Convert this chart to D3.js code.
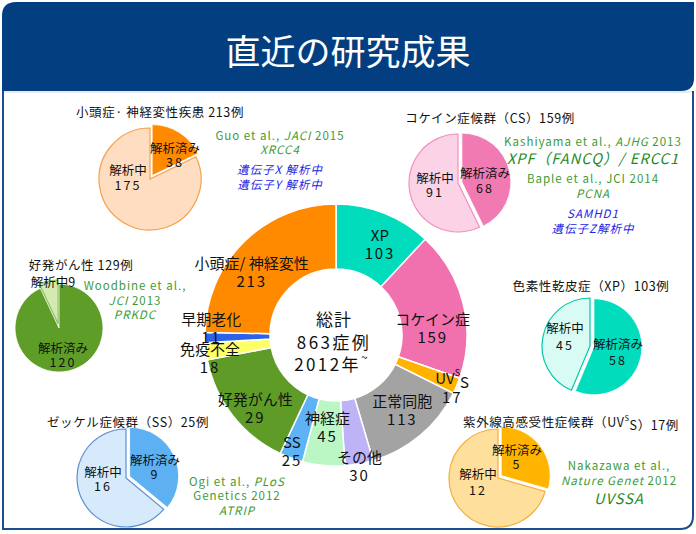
<!DOCTYPE html>
<html><head><meta charset="utf-8">
<script src="https://cdn.jsdelivr.net/npm/d3@7"></script>
<style>
body{margin:0;background:#fff}
svg{display:block}
text{font-family:"Noto Sans CJK JP","Noto Sans",sans-serif}
</style>
</head><body>
<svg id="c" width="696" height="534"></svg>
<script>
// ---------- data ----------
const chartTitle = "直近の研究成果";
const centerLines = ["総計", "863症例", "2012年"];
const donutCategories = ["XP", "コケイン症", "UVSS", "正常同胞", "その他", "神経症", "SS", "好発がん性", "免疫不全", "早期老化", "小頭症/ 神経変性"];
const donutValues = [103, 159, 17, 113, 30, 45, 25, 129, 18, 11, 213];
const donutValueLabels = ["103", "159", "17", "113", "30", "45", "25", "29", "18", "11", "213"];
const donutColors = ["#00DCBC", "#F071AE", "#FFB300", "#A3A3A3", "#BFB3F7", "#BAF7C4", "#5DB3F5", "#5F9C27", "#FFFF66", "#2C62E6", "#FF8A00"];

const pieTitles = ["小頭症· 神経変性疾患 213例", "コケイン症候群（CS）159例", "好発がん性 129例", "色素性乾皮症（XP）103例", "ゼッケル症候群（SS）25例", "紫外線高感受性症候群（UVSS）17例"];
const pieAnalyzed = [38, 68, 120, 58, 9, 5];
const pieInProgress = [175, 91, 9, 45, 16, 12];
const pieSliceNames = ["解析済み", "解析中"];
const pieDark = ["#FF8A00", "#F27AB3", "#5E9E28", "#00DCBC", "#5DB0F2", "#FFB400"];
const pieLight = ["#FFDDC0", "#FCD3E6", "#D3EAB0", "#D8FBF4", "#D7EAFB", "#FFDF9C"];
const pieEdge = ["#F5A050", "#F090C0", "#8DC060", "#00C8A8", "#5B8FD0", "#F0B040"];

// citation lines: segments [text, italic]
const citations = [
  [ {t:[["Guo et al., ",0],["JACI",1],[" 2015",0]], c:"g"}, {t:[["XRCC4",1]], c:"g"},
    {t:[["遺伝子X 解析中",1]], c:"b"}, {t:[["遺伝子Y 解析中",1]], c:"b"} ],
  [ {t:[["Kashiyama et al., ",0],["AJHG",1],[" 2013",0]], c:"g"}, {t:[["XPF（FANCQ）/ ERCC1",1]], c:"G"},
    {t:[["Baple et al., JCI 2014",0]], c:"g"}, {t:[["PCNA",1]], c:"g"},
    {t:[["SAMHD1",1]], c:"b"}, {t:[["遺伝子Z解析中",1]], c:"b"} ],
  [ {t:[["Woodbine et al.,",0]], c:"g"}, {t:[["JCI",1],[" 2013",0]], c:"g"}, {t:[["PRKDC",1]], c:"g"} ],
  [],
  [ {t:[["Ogi et al., ",0],["PLoS",1]], c:"g"}, {t:[["Genetics 2012",0]], c:"g"}, {t:[["ATRIP",1]], c:"g"} ],
  [ {t:[["Nakazawa et al.,",0]], c:"g"}, {t:[["Nature Genet",1],[" 2012",0]], c:"g"}, {t:[["UVSSA",1]], c:"G"} ]
];

// ---------- layout ----------
const L = {
  cx: 336, cy: 335, rIn: 66, rOut: 131,
  donutLabel: [ {r:102,da:4},{r:97,da:9},{r:127,da:1},{r:99,da:-2},{r:132,da:0},{r:91,da:0},
                {r:123,da:1},{r:108,da:-3.7},{r:128,da:-2.7},{r:125,da:5},{r:106,da:-8.3} ],
  // la/lp = position of first label line relative to pie centre; g = gap to second line
  pies: [
    {cx:150,cy:179,r:51,tx:160,ty:111, la:[25,-32], lp:[-22,-10], g:[14,15], explode:0, cit:{x:280,y:[135,148.5,169,184]}},
    {cx:458,cy:183,r:49,tx:490,ty:117, la:[27,-11], lp:[-23,-6], g:[15.5,14.5], explode:0, cit:{x:593,y:[140.5,157,177.5,193,213,227.5]}},
    {cx:59,cy:328,r:44,tx:81,ty:264, la:[4,19], lp:[-6,-47], g:[14.5,0], explode:1, cit:{x:135,y:[285,300,314]}},
    {cx:590,cy:346,r:48,tx:591,ty:285, la:[28,-3], lp:[-25,-19], g:[16.5,17], explode:0, cit:null},
    {cx:126,cy:478,r:49,tx:128,ty:421, la:[29,-19], lp:[-23,-7], g:[14.5,14.5], explode:0, cit:{x:237,y:[481,495,509.5]}},
    {cx:498,cy:478,r:49,tx:571,ty:421, la:[19,-29], lp:[-20,-5], g:[14.5,16.5], explode:0, cit:{x:619,y:[465,480,497]}}
  ]
};
const citColor = {g:"#3D9B35", G:"#238A23", b:"#2424E6"};

const svg = d3.select("#c");

// ---------- frame ----------
const navy = "#033F80";
svg.append("path")
  .attr("d", "M2,16 Q2,2 16,2 L694,2 L694,78 Q694,91 681,91 L2,91 Z")
  .attr("fill", navy);
svg.append("line").attr("x1",3).attr("x2",693).attr("y1",92).attr("y2",92).attr("stroke","#cfd6de").attr("stroke-width",1);
svg.append("path")
  .attr("d", "M3,91 L3,529 L680,529 Q693,529 693,516 L693,91")
  .attr("fill", "none").attr("stroke", "#1F4E8C").attr("stroke-width", 2);
svg.append("text").attr("x", 348).attr("y", 49).attr("text-anchor","middle").attr("dominant-baseline","central")
  .attr("fill","#fff").attr("font-size", 35).text(chartTitle);

// helper: write text with UVsS superscript
function addTxt(sel, str) {
  const parts = str.split("UVSS");
  parts.forEach((p, i) => {
    if (p) sel.append("tspan").text(p);
    if (i < parts.length - 1) {
      sel.append("tspan").text("UV");
      sel.append("tspan").attr("font-size","0.6em").attr("dy","-0.55em").text("S");
      sel.append("tspan").attr("dy","0.55em").text("S");
    }
  });
}

// ---------- main donut ----------
const donutData = donutCategories.map((c, i) => ({c, v: donutValues[i], lab: donutValueLabels[i], col: donutColors[i], i}));
const pie = d3.pie().sort(null).value(d => d.v);
const arcs = pie(donutData);
const arc = d3.arc().innerRadius(L.rIn).outerRadius(L.rOut);
const g = svg.append("g").attr("transform", `translate(${L.cx},${L.cy})`);
g.selectAll("path.s").data(arcs).join("path").attr("class","s")
  .attr("d", arc).attr("fill", d => d.data.col).attr("stroke","#fff").attr("stroke-width",1.5);

arcs.forEach((a, i) => {
  const lay = L.donutLabel[i];
  const ang = (a.startAngle + a.endAngle) / 2 + lay.da * Math.PI / 180;
  const x = lay.r * Math.sin(ang), y = -lay.r * Math.cos(ang);
  const t1 = g.append("text").attr("x", x).attr("y", y - 9).attr("text-anchor","middle")
    .attr("dominant-baseline","central").attr("font-size",15).attr("fill","#111");
  addTxt(t1, a.data.c);
  g.append("text").attr("x", x).attr("y", y + 10).attr("text-anchor","middle")
    .attr("dominant-baseline","central").attr("font-size",15).attr("letter-spacing",1.8).attr("fill","#111")
    .text(a.data.lab);
});

// centre text
const cyLines = [-17, 6, 28];
centerLines.forEach((s, i) => {
  const t = g.append("text").attr("x", i === 2 ? -4 : -2).attr("y", cyLines[i]).attr("text-anchor","middle")
    .attr("dominant-baseline","central").attr("font-size",17).attr("letter-spacing", i ? 2.4 : 1).attr("fill","#111");
  t.append("tspan").text(s);
  if (i === 2) t.append("tspan").attr("font-size","0.7em").attr("dy","-0.6em").text("~");
});

// ---------- small pies ----------
const smallPie = d3.pie().sort(null).value(d => d);
L.pies.forEach((p, k) => {
  const vals = [pieAnalyzed[k], pieInProgress[k]];
  const pa = smallPie(vals);
  const sarc = d3.arc().innerRadius(0).outerRadius(p.r);
  const pg = svg.append("g").attr("transform", `translate(${p.cx},${p.cy})`);
  pa.forEach((a, j) => {
    const mid = (a.startAngle + a.endAngle) / 2;
    const off = j === p.explode ? 4 : 0;
    pg.append("path").attr("d", sarc(a))
      .attr("transform", `translate(${off*Math.sin(mid)},${-off*Math.cos(mid)})`)
      .attr("fill", j === 0 ? pieDark[k] : pieLight[k])
      .attr("stroke", j === 0 ? "#ffffff" : pieEdge[k]).attr("stroke-width", j === 0 ? 0.8 : 1.2);
  });
  // labels
  const la = p.la, lp = p.lp;
  const lbl = (x, y, s, ls) => pg.append("text").attr("x", x).attr("y", y).attr("text-anchor","middle")
    .attr("dominant-baseline","central").attr("font-size",12.5).attr("letter-spacing", ls).attr("fill","#111").text(s);
  lbl(la[0], la[1], pieSliceNames[0], 0);
  lbl(la[0], la[1] + p.g[0], pieAnalyzed[k], 2);
  if (k === 2) {
    lbl(lp[0], lp[1], pieSliceNames[1] + pieInProgress[k], 0);
  } else {
    lbl(lp[0], lp[1], pieSliceNames[1], 0);
    lbl(lp[0], lp[1] + p.g[1], pieInProgress[k], 2);
  }
  // title
  const tt = svg.append("text").attr("x", p.tx).attr("y", p.ty).attr("text-anchor","middle").attr("dominant-baseline","central")
    .attr("font-size",12.5).attr("letter-spacing",0.6).attr("fill","#111");
  addTxt(tt, pieTitles[k]);
  // citations
  if (p.cit) {
    citations[k].forEach((line, li) => {
      const big = line.c === "G";
      const t = svg.append("text").attr("x", p.cit.x).attr("y", p.cit.y[li]).attr("text-anchor","middle")
        .attr("dominant-baseline","central").attr("font-size", big ? 14.5 : 11.5)
        .attr("letter-spacing", big ? 1.1 : 1.0).attr("fill", citColor[line.c]);
      line.t.forEach(([s, it]) => t.append("tspan").attr("font-style", it ? "italic" : "normal").text(s));
    });
  }
});
</script>
</body></html>
